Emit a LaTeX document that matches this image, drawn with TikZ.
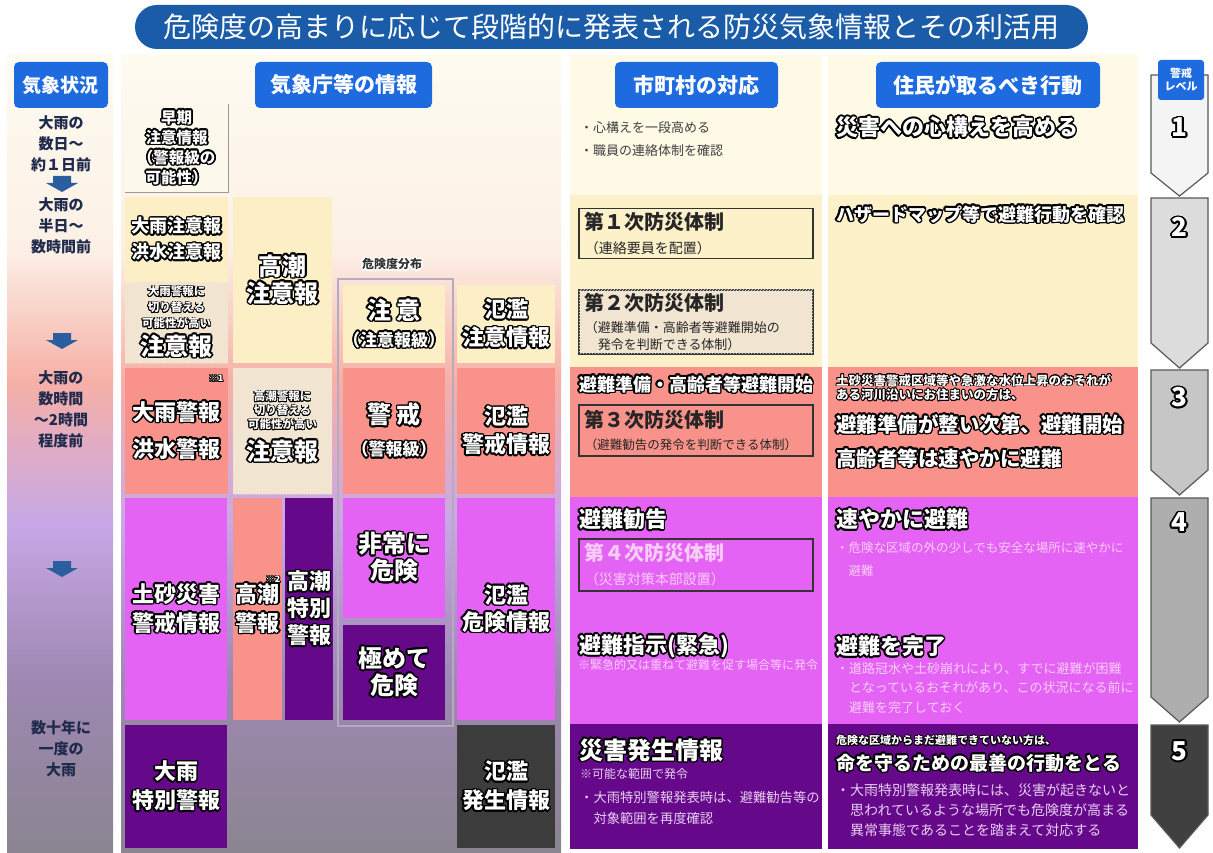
\documentclass[tikz,border=0pt]{standalone}
\usepackage{fontspec}
\setmainfont{Noto Sans CJK JP}
\usepackage{contour}
\usetikzlibrary{patterns}

\definecolor{titleblue}{HTML}{1A5CA8}
\definecolor{headblue}{HTML}{1E6BE0}
\definecolor{navy}{HTML}{1F2A4C}
\definecolor{arrowblue}{HTML}{2B5E9E}
\definecolor{early}{HTML}{FCF9EC}
\definecolor{advyel}{HTML}{FCEFC6}
\definecolor{hatchyel}{HTML}{F8E6C8}
\definecolor{salmon}{HTML}{F8928A}
\definecolor{lvpink}{HTML}{E462F4}
\definecolor{lvpurple}{HTML}{66088A}
\definecolor{lvblack}{HTML}{3C3C3C}
\definecolor{cityone}{HTML}{FEFAE6}
\definecolor{citytwo}{HTML}{FDF1C9}
\definecolor{lightpink}{HTML}{F9CDF9}
\definecolor{lightlav}{HTML}{E8CFF2}
\definecolor{framegray}{HTML}{B4ACBE}
\definecolor{bgA}{HTML}{FEFBF0}
\definecolor{bgB}{HTML}{FCF0E6}
\definecolor{bgC}{HTML}{F6B0A6}
\definecolor{bgD}{HTML}{C8A8E6}
\definecolor{bgE}{HTML}{9E88B2}
\definecolor{bgF}{HTML}{8A8590}
\definecolor{lvone}{HTML}{F4F4F4}
\definecolor{lvtwo}{HTML}{DCDCDC}
\definecolor{lvthree}{HTML}{C6C6C6}
\definecolor{lvfour}{HTML}{AEAEAE}
\definecolor{lvfive}{HTML}{404040}

% white letters with a black rim
\contourlength{1.6pt}
\newcommand{\ow}[1]{\contour{black}{#1}}
\newcommand{\os}[1]{{\contourlength{0.8pt}\contour{black}{#1}}}

\begin{document}
\begin{tikzpicture}[x=1pt,y=-1pt,
  every node/.style={inner sep=0pt, align=center},
  sz/.style 2 args={minimum width=#1, minimum height=#2},
  cell/.style={anchor=north west, text=white, font=\bfseries\fontsize{22}{28}\selectfont},
  hatch/.style={fill=hatchyel, postaction={pattern=north east lines, pattern color=black!10}},
  head/.style={fill=headblue, rounded corners=5, text=white, font=\bfseries\fontsize{21}{24}\selectfont},
  sit/.style={text=navy, font=\bfseries\fontsize{15}{21}\selectfont},
  sysbox/.style={anchor=north west, draw=black!80, line width=1.5, align=left, text width=222, inner xsep=6, text=black!85, font=\fontsize{14}{24}\selectfont},
  say/.style={anchor=west, align=left, text=white, font=\bfseries\fontsize{22}{26}\selectfont},
  note/.style={anchor=west, align=left, font=\fontsize{13}{20}\selectfont},
  lvnum/.style={text=white, font=\bfseries\fontsize{26}{28}\selectfont}]

\useasboundingbox (0,0) rectangle (1213,853);
\fill[white] (0,0) rectangle (1213,853);

% background
\foreach \ya/\yb/\ca/\cb in {55/250/bgA/bgB, 250/380/bgB/bgC, 380/520/bgC/bgD, 520/680/bgD/bgE, 680/853/bgE/bgF}{
  \shade[top color=\ca, bottom color=\cb] (7,\ya) rectangle (113,\yb+1);
  \shade[top color=\ca, bottom color=\cb] (121,\ya) rectangle (561,\yb+1);
}
\foreach \ya/\yb/\c in {55/195/cityone, 195/367/citytwo, 367/497/salmon, 497/724/lvpink, 724/849/lvpurple}{
  \fill[\c] (570,\ya) rectangle (822,\yb);
  \fill[\c] (828,\ya) rectangle (1138,\yb);
}

% title and headers
\node[fill=titleblue, rounded corners=22, sz={953}{44}, text=white, font=\fontsize{28}{30}\selectfont] (title) at (611.5,27) {危険度の高まりに応じて段階的に発表される防災気象情報とその利活用};
\node[head, sz={94}{46}, font=\bfseries\fontsize{19}{22}\selectfont] (hwx) at (61,85) {気象状況};
\node[head, sz={177}{46}] (hjma) at (343.5,85) {気象庁等の情報};
\node[head, sz={163}{46}] (hcity) at (696.5,85) {市町村の対応};
\node[head, sz={224}{46}] (hres) at (988,85) {住民が取るべき行動};

% weather situation
\node[sit] (sit1) at (61,144) {大雨の\\数日～\\約１日前};
\node[sit] (sit2) at (61,226) {大雨の\\半日～\\数時間前};
\node[sit] (sit3) at (61,409) {大雨の\\数時間\\～2時間\\程度前};
\node[sit] (sit4) at (61,749) {数十年に\\一度の\\大雨};
\foreach \y in {176,333,561}
  \fill[arrowblue] (53,\y) -- (71,\y) -- (71,\y+7) -- (78,\y+7) -- (62,\y+16) -- (46,\y+7) -- (53,\y+7) -- cycle;

% JMA warnings
\node[cell, sz={103}{88}, fill=early, font=\bfseries\fontsize{15.5}{20}\selectfont] (earlyA) at (125,104) {\ow{早期}\\\ow{注意情報}\\\ow{（警報級の}\\\ow{可能性）}};
\draw[black!40, line width=1.5] (earlyA.north east) -- (earlyA.south east) -- (earlyA.south west);
\node[cell, sz={103}{85}, fill=advyel, font=\bfseries\fontsize{18}{26}\selectfont] (advA) at (125,197) {\ow{大雨注意報}\\\ow{洪水注意報}};
\node[cell, sz={103}{80}, hatch] (preA) at (125,283) {};
\node[text=white, font=\bfseries\fontsize{11.5}{16}\selectfont] (preAs) at (176.5,308) {\os{大雨警報に}\\\os{切り替える}\\\os{可能性が高い}};
\node[text=white, font=\bfseries\fontsize{24}{28}\selectfont] (preAb) at (176.5,347) {\ow{注意報}};
\node[cell, sz={103}{126}, fill=salmon, font=\bfseries\fontsize{22}{37}\selectfont] (wrnA) at (125,368) {\ow{大雨警報}\\\ow{洪水警報}};
\node[text=white, font=\bfseries\fontsize{9}{10}\selectfont] (note1) at (216,379) {\os{※1}};
\node[cell, sz={102}{222}, fill=lvpink, font=\bfseries\fontsize{22}{29}\selectfont] (sedA) at (125,498) {\ow{土砂災害}\\\ow{警戒情報}};
\node[cell, sz={102}{123}, fill=lvpurple, font=\bfseries\fontsize{22}{29}\selectfont] (spA) at (125,725) {\ow{大雨}\\\ow{特別警報}};

\node[cell, sz={99}{166}, fill=advyel, font=\bfseries\fontsize{24}{27}\selectfont] (tideAdv) at (233,197) {\ow{高潮}\\\ow{注意報}};
\node[cell, sz={99}{126}, hatch] (tidePre) at (233,368) {};
\node[text=white, font=\bfseries\fontsize{11.5}{14}\selectfont] (tidePres) at (282.5,411) {\os{高潮警報に}\\\os{切り替える}\\\os{可能性が高い}};
\node[text=white, font=\bfseries\fontsize{24}{28}\selectfont] (tidePreb) at (282.5,452) {\ow{注意報}};
\node[cell, sz={49}{222}, fill=salmon, font=\bfseries\fontsize{22}{29}\selectfont] (tideWrn) at (233,498) {\ow{高潮}\\\ow{警報}};
\node[text=white, font=\bfseries\fontsize{9}{10}\selectfont] (note2) at (273,580) {\os{※2}};
\node[cell, sz={48}{222}, fill=lvpurple, font=\bfseries\fontsize{22}{27}\selectfont] (tideSp) at (285,498) {\ow{高潮}\\\ow{特別}\\\ow{警報}};

\node[text=black!80, font=\bfseries\fontsize{12}{14}\selectfont] (risklbl) at (392,265) {\contour{white}{危険度分布}};
\node[anchor=north west, draw=framegray, line width=2, sz={115}{447}] (riskframe) at (337,278) {};
\node[cell, sz={102}{78}, fill=advyel, font=\bfseries\fontsize{17}{27}\selectfont] (rkC) at (343,285) {{\fontsize{24}{28}\selectfont\ow{注 意}}\\\ow{（注意報級）}};
\node[cell, sz={102}{126}, fill=salmon, font=\bfseries\fontsize{17}{32}\selectfont] (wrnC) at (343,368) {{\fontsize{24}{28}\selectfont\ow{警 戒}}\\\ow{（警報級）}};
\node[cell, sz={102}{120}, fill=lvpink, font=\bfseries\fontsize{24}{27}\selectfont] (vhC) at (343,498) {\ow{非常に}\\\ow{危険}};
\node[cell, sz={102}{95}, fill=lvpurple, font=\bfseries\fontsize{24}{27}\selectfont] (exC) at (343,625) {\ow{極めて}\\\ow{危険}};

\node[cell, sz={98}{78}, fill=advyel, font=\bfseries\fontsize{22}{28}\selectfont] (flAdv) at (457,285) {\ow{氾濫}\\\ow{注意情報}};
\node[cell, sz={98}{126}, fill=salmon, font=\bfseries\fontsize{22}{28}\selectfont] (flWrn) at (457,368) {\ow{氾濫}\\\ow{警戒情報}};
\node[cell, sz={98}{222}, fill=lvpink, font=\bfseries\fontsize{22}{27}\selectfont] (flDng) at (457,498) {\ow{氾濫}\\\ow{危険情報}};
\node[cell, sz={98}{123}, fill=lvblack, font=\bfseries\fontsize{22}{29}\selectfont] (flOcc) at (457,725) {\ow{氾濫}\\\ow{発生情報}};

% municipality
\node[note, text=black!75, font=\fontsize{13}{23}\selectfont] (c1) at (580,139.5) {・心構えを一段高める\\・職員の連絡体制を確認};
\node[sysbox, sz={234}{50}] (sys1) at (578,208) {{\fontsize{20}{24}\selectfont\bfseries 第１次防災体制}\\（連絡要員を配置）};
\node[sysbox, sz={234}{64}, hatch, font=\fontsize{13}{17}\selectfont] (sys2) at (578,289) {{\fontsize{20}{24}\selectfont\bfseries 第２次防災体制}\\[5pt]（避難準備・高齢者等避難開始の\\　発令を判断できる体制）};
\node[say, font=\bfseries\fontsize{18}{20}\selectfont] (ev3) at (579,385) {\ow{避難準備・高齢者等避難開始}};
\node[sysbox, sz={234}{51}, font=\fontsize{12.5}{22}\selectfont] (sys3) at (578,404) {{\fontsize{20}{24}\selectfont\bfseries 第３次防災体制}\\（避難勧告の発令を判断できる体制）};
\node[say] (ev4) at (579,520) {\ow{避難勧告}};
\node[sysbox, sz={234}{52}, text=lightpink] (sys4) at (578,538) {{\fontsize{20}{24}\selectfont\bfseries 第４次防災体制}\\（災害対策本部設置）};
\node[say] (ev4b) at (579,647) {\ow{避難指示(緊急)}};
\node[note, text=lightpink, font=\fontsize{12}{14}\selectfont] (ev4n) at (578,665) {※緊急的又は重ねて避難を促す場合等に発令};
\node[say, font=\bfseries\fontsize{24}{26}\selectfont] (ev5) at (579,751) {\ow{災害発生情報}};
\node[note, text=lightlav, font=\fontsize{12}{14}\selectfont] (ev5n) at (580,774) {※可能な範囲で発令};
\node[note, text=lightlav, font=\fontsize{13.3}{21}\selectfont] (ev5b) at (580,807.5) {・大雨特別警報発表時は、避難勧告等の\\　対象範囲を再度確認};

% residents
\node[say] (act1) at (836,128) {\ow{災害への心構えを高める}};
\node[say, font=\bfseries\fontsize{18}{20}\selectfont] (act2) at (836,215) {\ow{ハザードマップ等で避難行動を確認}};
\node[say, font=\bfseries\fontsize{12.5}{14.5}\selectfont] (act3s) at (836,388) {\os{土砂災害警戒区域等や急激な水位上昇のおそれが}\\\os{ある河川沿いにお住まいの方は、}};
\node[say, font=\bfseries\fontsize{20.5}{24}\selectfont] (act3a) at (836,425) {\ow{避難準備が整い次第、避難開始}};
\node[say, font=\bfseries\fontsize{20.5}{24}\selectfont] (act3b) at (836,459) {\ow{高齢者等は速やかに避難}};
\node[say] (act4) at (836,520) {\ow{速やかに避難}};
\node[note, text=lightpink, font=\fontsize{12.5}{23}\selectfont] (act4n) at (836,559.5) {・危険な区域の外の少しでも安全な場所に速やかに\\　避難};
\node[say] (act4b) at (836,647) {\ow{避難を完了}};
\node[note, text=lightpink, font=\fontsize{13}{19.5}\selectfont] (act4bn) at (836,688) {・道路冠水や土砂崩れにより、すでに避難が困難\\　となっているおそれがあり、この状況になる前に\\　避難を完了しておく};
\node[say, font=\bfseries\fontsize{11}{13}\selectfont] (act5s) at (836,741) {\os{危険な区域からまだ避難できていない方は、}};
\node[say, font=\bfseries\fontsize{19}{22}\selectfont] (act5) at (836,764) {\ow{命を守るための最善の行動をとる}};
\node[note, text=lightlav, font=\fontsize{14}{20}\selectfont] (act5n) at (836,810) {・大雨特別警報発表時には、災害が起きないと\\　思われているような場所でも危険度が高まる\\　異常事態であることを踏まえて対応する};

% alert levels
\foreach \t/\s/\b/\c in {75/173/196/lvone, 198/343/368/lvtwo, 370/470/495/lvthree, 498/697/722/lvfour, 725/815/848/lvfive}
  \filldraw[fill=\c, draw=black!65, line width=1.2] (1151,\t) -- (1208,\t) -- (1208,\s) -- (1179.5,\b) -- (1151,\s) -- cycle;
\node[head, sz={46}{40}, rounded corners=3, font=\bfseries\fontsize{11}{13}\selectfont] (hlv) at (1181,80) {警戒\\レベル};
\foreach \n/\y in {1/128, 2/228, 3/398, 4/523, 5/752}
  \node[lvnum] (lv\n) at (1179.5,\y) {\ow{\n}};
\end{tikzpicture}
\end{document}
